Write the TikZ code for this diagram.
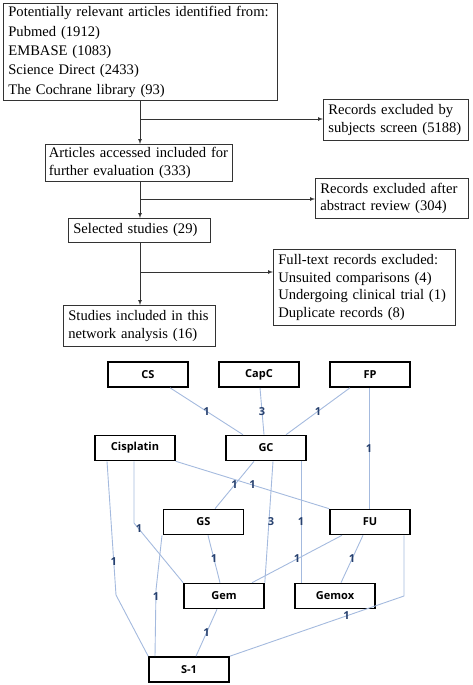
\documentclass[tikz,border=0pt]{standalone}
\usepackage{fontspec}
\setmainfont{Liberation Serif}
\newfontfamily\netfont{Open Sans}
\usepackage{xcolor}
\usepackage{tikz}
\usetikzlibrary{shapes,arrows,positioning,calc}

\definecolor{edgeblue}{RGB}{164,186,222}
\definecolor{wtblue}{RGB}{38,64,110}

\begin{document}
\begin{tikzpicture}[x=1pt,y=-1pt,>=latex,
    flowbox/.style={draw=black!80,line width=0.7pt,anchor=north west,align=left,
      inner xsep=5pt,inner ysep=0pt,font=\fontsize{14.6}{17.6}\selectfont},
    flowarrow/.style={->,draw=black!80,line width=0.7pt},
    netbox/.style={draw,line width=1.6pt,minimum width=80pt,minimum height=25pt,
      font=\netfont\bfseries\fontsize{11}{13}\selectfont},
    netedge/.style={draw=edgeblue,line width=0.9pt},
    wt/.style={font=\netfont\bfseries\fontsize{11}{13}\selectfont,text=wtblue,inner sep=0pt}]
  \useasboundingbox (0,0) rectangle (473,685);

  \node[flowbox,text width=264pt,minimum height=97pt,font=\fontsize{14.6}{19.3}\selectfont] (src) at (3,3)
    {Potentially relevant articles identified from:\\Pubmed (1912)\\EMBASE (1083)\\Science Direct (2433)\\The Cochrane library (93)};
  \node[flowbox,text width=135pt,minimum height=41pt] (scr) at (323,99)
    {Records excluded by\\subjects screen (5188)};
  \node[flowbox,text width=180pt,minimum height=37pt,inner xsep=3.5pt] (arts) at (45,144)
    {Articles accessed included for\\further evaluation (333)};
  \node[flowbox,text width=143pt,minimum height=40pt] (abs) at (315,178)
    {Records excluded after\\abstract review (304)};
  \node[flowbox,text width=132pt,minimum height=24pt] (sel) at (68,218)
    {Selected studies (29)};
  \node[flowbox,text width=172pt,minimum height=76pt] (full) at (273,249)
    {Full-text records excluded:\\Unsuited comparisons (4)\\Undergoing clinical trial (1)\\Duplicate records (8)};
  \node[flowbox,text width=142pt,minimum height=41pt] (incl) at (63,305)
    {Studies included in this\\network analysis (16)};

  \coordinate (t1) at (140,119);
  \coordinate (t2) at (140,199);
  \coordinate (t3) at (140,272);
  \draw[flowarrow] (src.south -| t1) -- (arts.north -| t1);
  \draw[flowarrow] (arts.south -| t2) -- (sel.north -| t2);
  \draw[flowarrow] (sel.south -| t3) -- (incl.north -| t3);
  \draw[flowarrow] (t1) -- (t1 -| scr.west);
  \draw[flowarrow] (t2) -- (t2 -| abs.west);
  \draw[flowarrow] (t3) -- (t3 -| full.west);

  \node[netbox] (cs) at (148,374.5) {CS};
  \node[netbox] (capc) at (259,374.5) {CapC};
  \node[netbox] (fp) at (370,374.5) {FP};
  \node[netbox] (cis) at (135,448) {Cisplatin};
  \node[netbox] (gc) at (266,448) {GC};
  \node[netbox] (gs) at (203.5,522) {GS};
  \node[netbox] (fu) at (370,522) {FU};
  \node[netbox] (gem) at (224,596) {Gem};
  \node[netbox] (gemox) at (335,596) {Gemox};
  \node[netbox] (s1) at (189,669.5) {S-1};

  \coordinate (b1) at (134,523);
  \coordinate (b2) at (116,595);
  \coordinate (b3) at (156,590);
  \coordinate (b4) at (404,596);

  \draw[netedge] ([xshift=22pt]cs.south) -- node[wt]{1} ([xshift=-23pt]gc.north);
  \draw[netedge] ([xshift=1pt]capc.south) -- node[wt]{3} ([xshift=-2pt]gc.north);
  \draw[netedge] ([xshift=-20pt]fp.south) -- node[wt]{1} ([xshift=20pt]gc.north);
  \draw[netedge] ([xshift=-1pt]fp.south) -- node[wt]{1} ([xshift=-1pt]fu.north);
  \draw[netedge] (cis.south east) -- node[wt]{1} (fu.north west);
  \draw[netedge] ([xshift=-12pt]gc.south) -- node[wt]{1} ([xshift=11.5pt]gs.north);
  \draw[netedge] ([xshift=7pt]gc.south) -- node[wt,xshift=2pt]{3} (gem.north east);
  \draw[netedge] ([xshift=35pt]gc.south) -- node[wt]{1} ([xshift=-34pt]gemox.north);
  \draw[netedge] ([xshift=-1pt]cis.south) -- (b1) -- node[wt,pos=0.1]{1} (gem.north west);
  \draw[netedge] ([xshift=-28pt]cis.south) -- node[wt,pos=0.75]{1} (b2) -- (s1.north west);
  \draw[netedge] ([xshift=-41.5pt]gs.south) -- (b3) -- node[wt,pos=0.1]{1} ([xshift=-34pt]s1.north);
  \draw[netedge] ([xshift=4.5pt]gs.south) -- node[wt]{1} ([xshift=-4pt]gem.north);
  \draw[netedge] ([xshift=-28pt]fu.south) -- node[wt]{1} ([xshift=28pt]gem.north);
  \draw[netedge] ([xshift=-7pt]fu.south) -- node[wt]{1} ([xshift=6pt]gemox.north);
  \draw[netedge] ([xshift=34pt]fu.south) -- (b4) -- node[wt,pos=0.33]{1} (s1.north east);
  \draw[netedge] ([xshift=-7pt]gem.south) -- node[wt]{1} ([xshift=7pt]s1.north);
\end{tikzpicture}
\end{document}
